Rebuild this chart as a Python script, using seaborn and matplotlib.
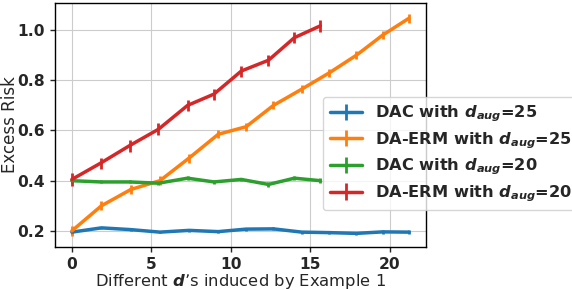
import numpy as np
import matplotlib
matplotlib.use("Agg")
import matplotlib.pyplot as plt
import seaborn as sns

# x positions (different d's)
x_long = [0, 1.86, 3.71, 5.54, 7.37, 9.21, 10.96, 12.68, 14.47, 16.2, 17.9, 19.55, 21.2]
x_short = [0, 1.81, 3.64, 5.45, 7.28, 8.94, 10.66, 12.37, 14.0, 15.63]

# excess risk, d_aug = 25
dac_25 = [0.195, 0.212, 0.205, 0.195, 0.202, 0.197, 0.207, 0.208, 0.195, 0.193, 0.19, 0.196, 0.195]
dac_25_err = [0.006, 0.005, 0.005, 0.005, 0.005, 0.005, 0.006, 0.006, 0.006, 0.006, 0.006, 0.007, 0.008]
erm_25 = [0.2, 0.30, 0.365, 0.40, 0.49, 0.585, 0.615, 0.70, 0.765, 0.83, 0.90, 0.98, 1.047]
erm_25_err = [0.02, 0.018, 0.018, 0.018, 0.018, 0.016, 0.016, 0.016, 0.016, 0.016, 0.015, 0.016, 0.018]

# excess risk, d_aug = 20
dac_20 = [0.40, 0.395, 0.395, 0.39, 0.41, 0.395, 0.405, 0.385, 0.41, 0.40]
dac_20_err = [0.008, 0.006, 0.006, 0.007, 0.007, 0.007, 0.007, 0.009, 0.009, 0.01]
erm_20 = [0.405, 0.47, 0.54, 0.605, 0.70, 0.745, 0.837, 0.88, 0.97, 1.017]
erm_20_err = [0.025, 0.022, 0.024, 0.024, 0.022, 0.022, 0.022, 0.022, 0.022, 0.024]

labels = [r"DAC with $\mathbfit{d_{aug}}$=25",
          r"DA-ERM with $\mathbfit{d_{aug}}$=25",
          r"DAC with $\mathbfit{d_{aug}}$=20",
          r"DA-ERM with $\mathbfit{d_{aug}}$=20"]

sns.set_style("ticks", {"axes.grid": True, "grid.color": "#cccccc", "axes.edgecolor": "black"})
plt.rcParams["font.family"] = ["DejaVu Sans"]
plt.rcParams["mathtext.fontset"] = "dejavusans"
colors = sns.color_palette("tab10", 4)

fig = plt.figure(figsize=(5.72, 2.90), dpi=100)
ax = fig.add_axes([55 / 572, 1 - 247 / 290, (425.7 - 55) / 572, (247 - 2.7) / 290])

series = [(x_long, dac_25, dac_25_err), (x_long, erm_25, erm_25_err),
          (x_short, dac_20, dac_20_err), (x_short, erm_20, erm_20_err)]
for (xs, ys, es), c, lab in zip(series, colors, labels):
    ax.errorbar(xs, ys, yerr=es, color=c, lw=2.5, elinewidth=2, label=lab)

ax.set_yticks([0.2, 0.4, 0.6, 0.8, 1.0])
ax.set_xticks([0, 5, 10, 15, 20])
for t in ax.get_xticklabels() + ax.get_yticklabels():
    t.set_fontweight("bold")
    t.set_fontsize(11.2)
ax.tick_params(length=3.5, width=1.0, pad=3.5)

ax.set_xlabel("Different $\\mathbfit{d}$\u2019s induced by Example 1", fontsize=11.8)
ax.xaxis.label.set_verticalalignment("baseline")
ax.xaxis.set_label_coords(0.5, -0.158)
ax.set_ylabel("Excess Risk", fontsize=12)
ax.yaxis.label.set_verticalalignment("baseline")
ax.yaxis.set_label_coords(-0.1066, 0.5)

for s in ax.spines.values():
    s.set_linewidth(1.0)
    s.set_visible(True)

ax.legend(loc="upper left", bbox_to_anchor=(0.723, 0.614), borderaxespad=0,
          labelspacing=0.37, prop={"weight": "bold", "size": 11.7}, frameon=True)

fig.savefig("out.png", dpi=100)
